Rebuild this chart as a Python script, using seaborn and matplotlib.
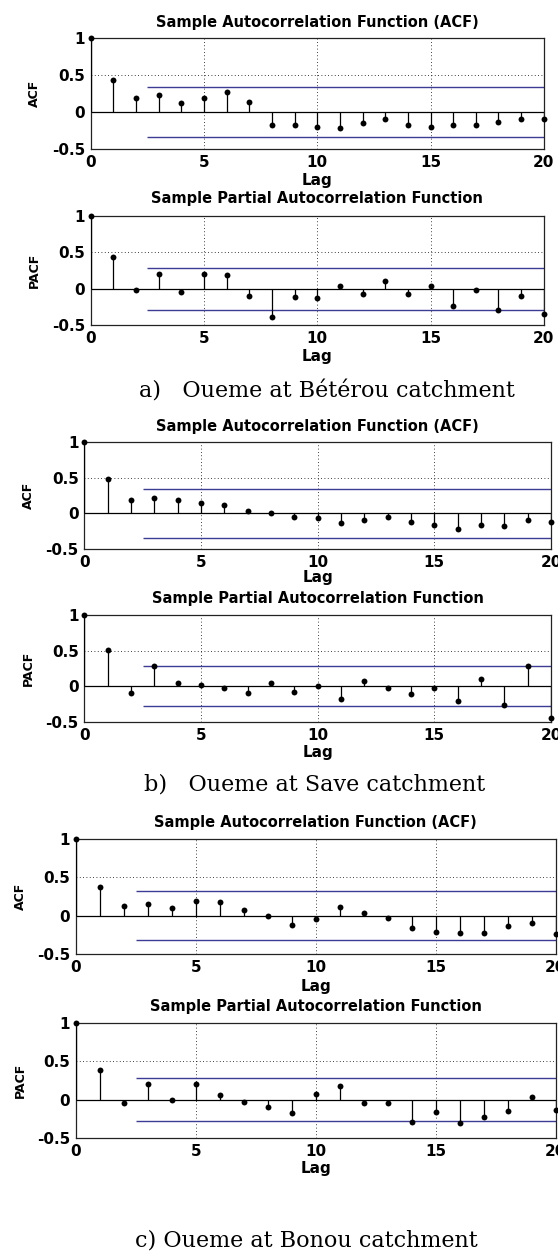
import numpy as np
import pandas as pd
import matplotlib
matplotlib.use("Agg")
import matplotlib.pyplot as plt
import seaborn as sns

lags = list(range(21))

acf_beterou = [1, 0.44, 0.19, 0.23, 0.12, 0.19, 0.27, 0.14, -0.17, -0.18, -0.20,
               -0.22, -0.15, -0.09, -0.18, -0.20, -0.18, -0.17, -0.14, -0.10, -0.10]
pacf_beterou = [1, 0.44, -0.02, 0.20, -0.05, 0.20, 0.19, -0.10, -0.39, -0.12, -0.13,
                0.03, -0.08, 0.10, -0.07, 0.03, -0.24, -0.02, -0.30, -0.10, -0.35]
acf_save = [1, 0.48, 0.18, 0.22, 0.18, 0.15, 0.12, 0.03, 0.00, -0.05, -0.06,
            -0.13, -0.09, -0.05, -0.12, -0.17, -0.22, -0.17, -0.18, -0.09, -0.12]
pacf_save = [1, 0.51, -0.09, 0.28, 0.04, 0.02, -0.02, -0.09, 0.05, -0.08, 0.00,
             -0.18, 0.08, -0.02, -0.11, -0.03, -0.20, 0.10, -0.26, 0.29, -0.45]
acf_bonou = [1, 0.38, 0.13, 0.15, 0.10, 0.19, 0.18, 0.07, 0.00, -0.12, -0.04,
             0.11, 0.03, -0.03, -0.16, -0.21, -0.23, -0.22, -0.14, -0.10, -0.24]
pacf_bonou = [1, 0.39, -0.05, 0.20, 0.00, 0.20, 0.06, -0.03, -0.09, -0.17, 0.07,
              0.18, -0.04, -0.04, -0.29, -0.16, -0.31, -0.22, -0.15, 0.04, -0.13]

# confidence bounds (+/-)
bounds = [0.335, 0.29, 0.34, 0.28, 0.32, 0.28]
bound_start = 2.5

titles = ["Sample Autocorrelation Function (ACF)",
          "Sample Partial Autocorrelation Function"]
ylabels = ["ACF", "PACF"]
captions = ["a)   Oueme at Bétérou catchment",
            "b)   Oueme at Save catchment",
            "c) Oueme at Bonou catchment"]
xticks = [0, 5, 10, 15, 20]
yticks = [-0.5, 0, 0.5, 1]
yticklabels = ["-0.5", "0", "0.5", "1"]

W, H = 558, 1251

sns.set_style("white")
plt.rcParams['font.family'] = ['DejaVu Sans']
plt.rcParams.update({'text.color': 'black', 'axes.labelcolor': 'black',
                     'xtick.color': 'black', 'ytick.color': 'black'})

fig = plt.figure(figsize=(W / 100, H / 100), dpi=100)

# left, right, top, bottom, title y, lag y, ylabel x  (pixels)
panels = [
    (90.7, 543.8, 38.3, 149, 22.7, 180, 34),
    (90.7, 543.8, 216, 325, 198.3, 356.7, 34),
    (84.3, 551, 442, 549, 427, 578, 28),
    (84.3, 551, 615, 722, 598, 753, 28),
    (75.8, 555.6, 839, 954, 822, 987, 20),
    (75.8, 555.6, 1023, 1138, 1006, 1168, 20),
]
series = [acf_beterou, pacf_beterou, acf_save, pacf_save, acf_bonou, pacf_bonou]
caption_pos = [(327, 391.7), (315, 785), (306, 1240)]


def draw_panel(ax, values, bound, title, ylabel, geo):
    left, right, top, bottom, ty, ly, yx = geo
    h = bottom - top
    w = right - left
    df = pd.DataFrame({'lag': lags, 'value': values})
    ax.grid(True, color='black', linestyle=(0, (1, 3)), linewidth=0.6)
    ax.axhline(0, color='black', linewidth=0.9, zorder=2)
    ax.vlines(df['lag'], 0, df['value'], color='black', linewidth=0.9, zorder=3)
    sns.scatterplot(data=df, x='lag', y='value', ax=ax, color='black', s=18,
                    edgecolor='black', linewidth=0, zorder=4, clip_on=False)
    ax.hlines([bound, -bound], bound_start, 20, color='#3c3c94', linewidth=1.0, zorder=2)
    ax.set_xlim(0, 20)
    ax.set_ylim(-0.5, 1)
    ax.set_xticks(xticks)
    ax.set_yticks(yticks)
    ax.set_yticklabels(yticklabels)
    ax.tick_params(direction='in', length=3, width=0.8, labelsize=11, pad=4)
    for lab in ax.get_xticklabels() + ax.get_yticklabels():
        lab.set_fontweight('bold')
    for sp in ax.spines.values():
        sp.set_color('#222222')
        sp.set_linewidth(0.9)
    ax.set_title(title, fontsize=10.5, fontweight='bold', y=1 + (top - ty) / h,
                 va='center', pad=0)
    ax.set_xlabel('Lag', fontsize=11, fontweight='bold')
    ax.xaxis.label.set_va('center')
    ax.xaxis.set_label_coords(0.5, -(ly - bottom) / h)
    ax.set_ylabel(ylabel, fontsize=9, fontweight='bold')
    ax.yaxis.label.set_va('center')
    ax.yaxis.set_label_coords(-(left - yx) / w, 0.5)


for i, geo in enumerate(panels):
    left, right, top, bottom = geo[:4]
    ax = fig.add_axes([left / W, 1 - bottom / H, (right - left) / W, (bottom - top) / H])
    draw_panel(ax, series[i], bounds[i], titles[i % 2], ylabels[i % 2], geo)

for cap, (cx, cy) in zip(captions, caption_pos):
    fig.text(cx / W, 1 - cy / H, cap, ha='center', va='center',
             fontsize=16, family=['DejaVu Serif'])

fig.savefig('out.png', dpi=100)
